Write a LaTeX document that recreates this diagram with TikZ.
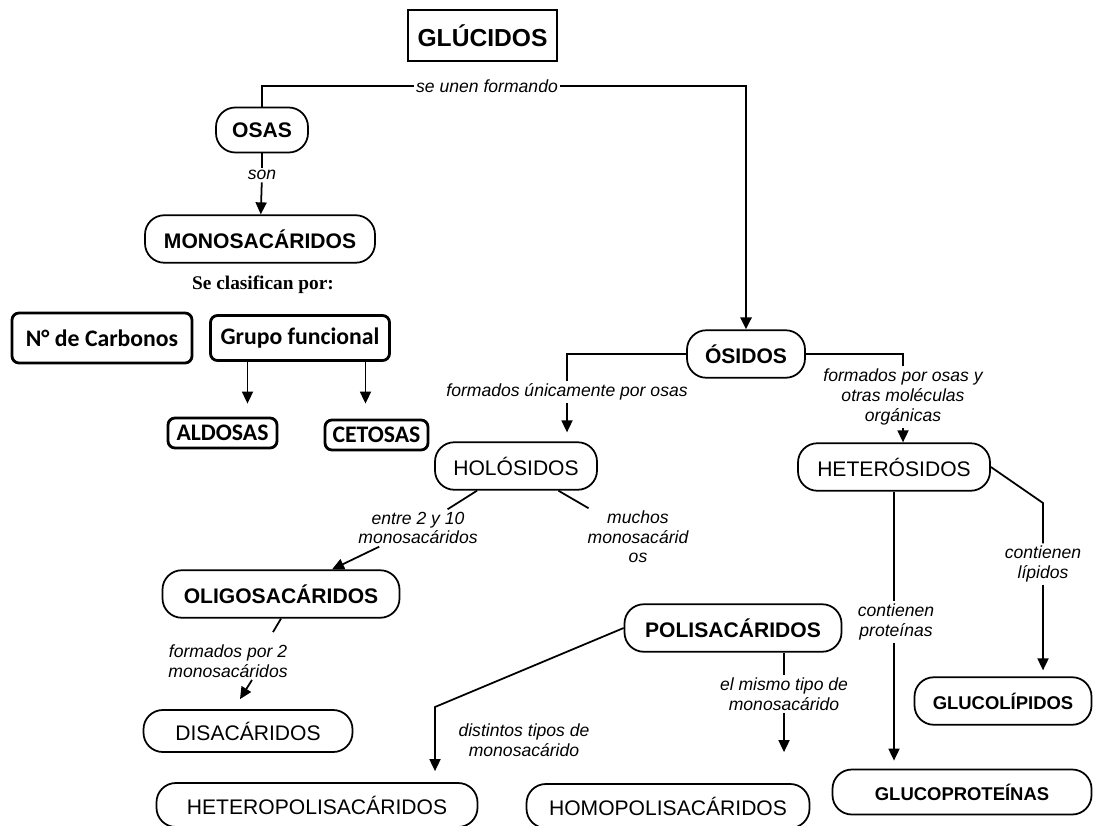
\documentclass[tikz,border=0pt]{standalone}
\usepackage{fontspec}
\setmainfont{Liberation Sans}
\newfontfamily\carlito{Carlito}
\newfontfamily\serifa{Liberation Serif}
\usetikzlibrary{arrows.meta}

\tikzset{
  osa/.style={draw, line width=1pt, rounded corners=11pt, minimum height=0.95cm, inner xsep=0.2cm, font=\bfseries\fontsize{12}{14}\selectfont},
  osafina/.style={osa, font=\fontsize{12}{14}\selectfont},
  clase/.style={draw, line width=1.6pt, rounded corners=4pt, inner xsep=0.15cm, inner ysep=1pt, font=\carlito\bfseries\fontsize{13.5}{15}\selectfont},
  etiq/.style={align=center, inner sep=1pt, font=\itshape\fontsize{10}{11.2}\selectfont},
}

\begin{document}
\begin{tikzpicture}[>={Triangle[length=2.4mm,width=2.2mm]}, line width=1pt]
  \useasboundingbox (0,0) rectangle (21.86,-16.52);

  \node [draw, line width=1.2pt, minimum width=2.98cm, minimum height=1.02cm, font=\bfseries\fontsize{14}{16}\selectfont] (gluc) at (9.65,-0.71) {GLÚCIDOS};
  \node [etiq] (unen) at (9.74,-1.72) {se unen formando};
  \node [osa, minimum width=1.84cm, minimum height=0.9cm] (osas) at (5.24,-2.60) {OSAS};
  \node [etiq] (son) at (5.24,-3.50) {son};
  \node [osa, minimum width=4.6cm] (mono) at (5.20,-4.78) {MONOSACÁRIDOS};
  \node [font=\serifa\bfseries\fontsize{11}{13}\selectfont] (clasif) at (5.26,-5.70) {Se clasifican por:};
  \node [clase, minimum width=3.6cm, minimum height=1cm] (carb) at (2.04,-6.76) {N° de Carbonos};
  \node [clase, minimum width=3.58cm, minimum height=0.9cm] (grupo) at (6.0,-6.76) {Grupo funcional};
  \node [clase, minimum width=2.18cm, minimum height=0.6cm] (aldo) at (4.45,-8.66) {ALDOSAS};
  \node [clase, minimum width=2.06cm, minimum height=0.6cm] (ceto) at (7.53,-8.70) {CETOSAS};

  \node [osa, minimum width=2.36cm] (osid) at (14.92,-7.08) {ÓSIDOS};
  \node [etiq] (unico) at (11.34,-7.84) {formados únicamente por osas};
  \node [etiq] (orga) at (18.06,-7.94) {formados por osas y\\otras moléculas\\orgánicas};
  \node [osafina, minimum width=3.24cm] (holo) at (10.32,-9.32) {HOLÓSIDOS};
  \node [osafina, minimum width=3.84cm] (hetero) at (17.88,-9.34) {HETERÓSIDOS};

  \node [etiq] (entre) at (8.36,-10.56) {entre 2 y 10\\monosacáridos};
  \node [etiq] (muchos) at (12.76,-10.74) {muchos\\monosacárid\\os};
  \node [etiq] (lipi) at (20.86,-11.28) {contienen\\lípidos};
  \node [etiq] (prot) at (17.92,-12.44) {contienen\\proteínas};
  \node [osa, minimum width=4.74cm] (oligo) at (5.62,-11.88) {OLIGOSACÁRIDOS};
  \node [osa, minimum width=4.34cm] (poli) at (14.66,-12.56) {POLISACÁRIDOS};
  \node [etiq] (dos) at (4.56,-13.22) {formados por 2\\monosacáridos};
  \node [etiq] (mismo) at (15.68,-13.88) {el mismo tipo de\\monosacárido};
  \node [etiq] (distin) at (10.48,-14.80) {distintos tipos de\\monosacárido};
  \node [osafina, minimum width=4.18cm, minimum height=0.84cm] (disa) at (4.96,-14.62) {DISACÁRIDOS};
  \node [osa, minimum width=3.54cm, font=\bfseries\fontsize{10.5}{12}\selectfont] (glucol) at (20.06,-14.02) {GLUCOLÍPIDOS};
  \node [osa, minimum width=5.18cm, minimum height=0.9cm, font=\bfseries\fontsize{10.5}{12}\selectfont] (glupro) at (19.24,-15.84) {GLUCOPROTEÍNAS};
  \node [osafina, minimum width=6.42cm, minimum height=0.88cm] (hetpol) at (6.34,-16.10) {HETEROPOLISACÁRIDOS};
  \node [osafina, minimum width=5.66cm, minimum height=0.88cm] (homo) at (13.36,-16.12) {HOMOPOLISACÁRIDOS};

  \coordinate (codo) at (20.86,-10.06);
  \coordinate (quiebre) at (8.70,-14.14);

  \draw (unen.west) -| (osas.north);
  \draw[->, line width=1.6pt] (unen.east) -| (osid.north);
  \draw (osas) -- (son);
  \draw[->] (son) -- (mono);
  \draw[->, shorten >=0.26cm] ([xshift=0.5cm]aldo.north |- grupo.south) -- ([xshift=0.5cm]aldo.north);
  \draw[->, shorten >=0.3cm] ([xshift=-0.22cm]ceto.north |- grupo.south) -- ([xshift=-0.22cm]ceto.north);

  \draw (osid.west) -| (unico.north);
  \draw[->, shorten >=0.18cm] (unico.south) -- (unico.south |- holo.north);
  \draw (osid.east) -| (orga.north);
  \draw[->] (orga.south) -- (orga.south |- hetero.north);

  \draw (holo) -- (entre);
  \draw[->] (entre) -- (oligo);
  \draw (holo) -- (muchos);
  \draw (oligo.south) -- ([xshift=0.9cm,yshift=0.2cm]dos.north);
  \draw[->] ([xshift=0.48cm]dos.south) -- ([xshift=-0.16cm,yshift=0.2cm]disa.north);

  \draw (hetero.east) -- (codo) -- (lipi.north);
  \draw[->, shorten >=0.12cm] (lipi.south) -- (lipi.south |- glucol.north);
  \draw (hetero.south) -- (hetero.south |- prot.north);
  \draw[->, shorten >=0.16cm] (hetero.south |- prot.south) -- (hetero.south |- glupro.north);

  \draw[->, shorten >=0.22cm] (poli.west) -- (quiebre) -- (quiebre |- hetpol.north);
  \draw (poli.south -| mismo) -- (mismo.north);
  \draw[->, shorten >=0.62cm] (mismo.south) -- (mismo.south |- homo.north);
\end{tikzpicture}
\end{document}
